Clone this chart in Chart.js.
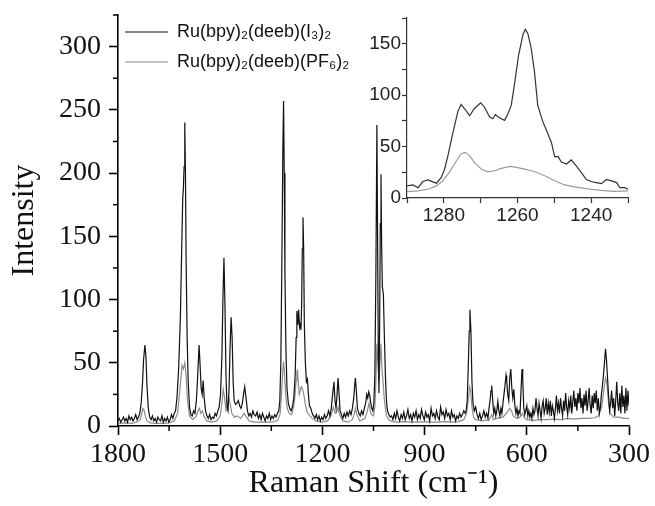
<!DOCTYPE html>
<html><head><meta charset="utf-8">
<script src="https://cdn.jsdelivr.net/npm/chart.js@4.4.1/dist/chart.umd.min.js"></script>
<style>
html,body{margin:0;padding:0;background:#fff;}
#wrap{position:relative;width:655px;height:506px;overflow:hidden;}
#main{position:absolute;left:0;top:0;}
#inset{position:absolute;left:330px;top:0;}
</style></head><body>
<div id="wrap"><canvas id="main" width="655" height="506"></canvas><canvas id="inset" width="310" height="235"></canvas></div>
<script>
// ---------- DATA ----------
const seriesNames = ['Ru(bpy)\u2082(deeb)(I\u2083)\u2082', 'Ru(bpy)\u2082(deeb)(PF\u2086)\u2082'];
const xAxisTitle = 'Raman Shift (cm\u207B\u00B9)';
const yAxisTitle = 'Intensity';
const xTickLabels = [1800, 1500, 1200, 900, 600, 300];
const yTickLabels = [0, 50, 100, 150, 200, 250, 300];
const insetXTickLabels = [1280, 1260, 1240];
const insetYTickLabels = [0, 50, 100, 150];

// [Raman shift, intensity] — Ru(bpy)2(deeb)(I3)2
const i3Spectrum = [
[1800,4],[1796,6],[1792,3],[1788,5],[1784,7],[1780,4],[1776,6],[1772,3],[1768,8],[1764,5],
[1760,7],[1756,4],[1752,6],[1748,9],[1744,5],[1740,7],[1736,10],[1732,18],[1728,34],[1725,52],
[1721,64],[1718,55],[1715,32],[1711,14],[1707,7],[1703,5],[1699,8],[1695,4],[1691,6],[1687,3],
[1683,7],[1679,5],[1675,4],[1671,8],[1667,3],[1663,6],[1659,4],[1655,7],[1651,3],[1647,5],
[1643,9],[1639,6],[1635,10],[1631,12],[1627,22],[1622,45],[1617,85],[1613,140],[1610,180],[1608,188],
[1606,205],[1604,240],[1602,200],[1600,130],[1597,70],[1594,35],[1590,15],[1586,9],[1582,8],[1578,12],
[1574,10],[1570,20],[1566,40],[1562,64],[1559,48],[1556,30],[1553,25],[1550,36],[1547,22],[1543,12],
[1539,8],[1535,6],[1531,9],[1527,5],[1523,7],[1519,6],[1515,10],[1511,8],[1507,12],[1503,15],
[1499,25],[1495,55],[1492,100],[1489,133],[1486,95],[1483,40],[1480,15],[1477,12],[1474,30],[1471,62],
[1468,86],[1465,70],[1462,35],[1459,20],[1455,17],[1451,18],[1447,20],[1443,16],[1439,14],[1435,18],
[1431,26],[1428,31],[1424,22],[1420,12],[1416,8],[1412,10],[1408,7],[1404,12],[1400,9],[1396,8],
[1392,11],[1388,6],[1384,9],[1380,5],[1376,10],[1372,7],[1368,4],[1364,8],[1360,6],[1356,10],
[1352,5],[1348,8],[1344,6],[1340,9],[1336,7],[1332,10],[1328,12],[1325,20],[1322,50],[1319,130],
[1316,220],[1314,257],[1312,200],[1310,120],[1307,60],[1304,30],[1300,18],[1296,14],[1292,12],[1288,15],
[1284,22],[1280,40],[1277,70],[1275,91],[1272,80],[1270,92],[1267,78],[1265,80],[1263,76],[1261,95],
[1259,140],[1257,165],[1255,140],[1253,80],[1250,50],[1247,35],[1244,37],[1241,25],[1238,16],[1234,14],
[1230,10],[1226,8],[1222,6],[1218,9],[1214,5],[1210,8],[1206,4],[1202,7],[1198,5],[1194,9],
[1190,6],[1186,8],[1182,12],[1178,8],[1174,14],[1170,25],[1166,35],[1163,20],[1160,14],[1157,25],
[1154,38],[1151,25],[1148,12],[1144,9],[1140,6],[1136,10],[1132,7],[1128,11],[1124,8],[1120,12],
[1116,9],[1112,14],[1108,22],[1105,33],[1103,38],[1100,26],[1097,14],[1093,10],[1089,8],[1085,12],
[1081,9],[1077,14],[1073,18],[1070,25],[1067,22],[1064,27],[1061,24],[1058,18],[1055,14],[1052,12],
[1049,18],[1046,40],[1043,120],[1040,238],[1038,150],[1036,60],[1034,26],[1032,80],[1030,160],[1028,199],
[1026,140],[1024,110],[1021,104],[1018,70],[1015,40],[1012,20],[1009,12],[1005,9],[1001,7],[997,8],
[993,5],[989,10],[985,6],[981,12],[977,7],[973,4],[969,9],[965,6],[961,11],[957,5],
[953,8],[949,13],[945,6],[941,9],[937,4],[933,10],[929,7],[925,12],[921,5],[917,9],
[913,6],[909,13],[905,8],[901,5],[897,11],[893,7],[889,9],[885,4],[881,14],[877,8],
[873,10],[869,6],[865,12],[861,7],[857,5],[853,15],[849,9],[845,11],[841,6],[837,13],
[833,8],[829,10],[825,5],[821,12],[817,7],[813,9],[809,4],[805,8],[801,6],[797,10],
[793,7],[789,9],[785,12],[781,10],[778,12],[775,20],[772,45],[769,75],[767,92],[764,75],
[761,35],[758,18],[754,12],[750,15],[746,9],[742,6],[738,10],[734,5],[730,8],[726,12],
[722,7],[718,10],[714,6],[711,14],[708,20],[705,28],[703,32],[700,20],[697,10],[694,14],
[691,8],[688,12],[685,19.5],[682,12],[679,8],[676,14],[673,10],[670,18],[667,25],[664,32],
[661,40],[659,36],[656,25],[653,20],[650,38],[647,45],[644,30],[641,22],[638,29],[635,16],
[632,10],[629,14],[626,8],[623,12],[620,10],[617,28],[614,45],[612,38],[609,15],[606,9],
[603,12],[600,16],[597,8],[594,12],[591,7],[588,10],[585,6],[582,14],[579,9],[576,12],
[573,22],[570,14],[567,8],[564,18],[561,12],[558,6],[555,16],[552,20],[549,10],[546,14],
[543,22],[540,9],[537,18],[534,11],[531,20],[528,8],[525,16],[522,12],[519,6],[516,14],
[513,24],[510,12],[507,18],[504,10],[501,22],[498,14],[495,8],[492,20],[489,12],[486,26],
[483,15],[480,9],[477,20],[474,14],[471,24],[468,10],[465,19],[462,28],[459,15],[456,22],
[453,12],[450,26],[447,18],[444,30],[441,14],[438,22],[435,10],[432,25],[429,16],[426,28],
[423,12],[420,20],[417,30],[414,16],[411,10],[408,24],[405,14],[402,26],[399,18],[396,28],
[393,12],[390,22],[387,10],[384,15],[381,25],[378,32],[375,40],[372,50],[369,61],[366,52],
[363,38],[360,24],[357,12],[354,18],[351,28],[348,14],[345,22],[342,8],[339,20],[336,35],
[333,18],[330,12],[327,26],[324,10],[321,32],[318,15],[315,24],[312,10],[309,30],[306,12],
[303,28],[300,16]
];

// [Raman shift, intensity] — Ru(bpy)2(deeb)(PF6)2
const pf6Spectrum = [
[1800,2],[1780,2.5],[1760,2],[1745,3],[1735,5],[1730,10],[1727,14],[1724,13],[1720,8],[1715,4],
[1705,2.5],[1690,2],[1670,2],[1650,2.5],[1635,4],[1625,10],[1618,30],[1612,48],[1608,45],[1604,50],
[1600,40],[1596,20],[1590,8],[1580,5],[1570,8],[1565,12],[1561,14],[1557,10],[1552,12],[1548,8],
[1540,4],[1525,3],[1510,4],[1500,8],[1495,18],[1491,29],[1487,22],[1483,12],[1479,13],[1475,23],
[1471,18],[1466,10],[1458,7],[1450,8],[1440,6],[1430,10],[1425,8],[1415,4],[1400,3],[1380,3],
[1360,3],[1340,3.5],[1330,5],[1324,10],[1320,25],[1316,45],[1314,51],[1311,40],[1307,22],[1303,14],
[1298,10],[1290,9],[1284,16],[1280,25],[1277,36],[1275,43],[1273,44],[1271,35],[1268,25],[1265,28],
[1262,31],[1260,30],[1257,28],[1254,24],[1250,17],[1245,11],[1240,9],[1230,6],[1220,4],[1200,3],
[1185,4],[1175,8],[1168,15],[1163,10],[1158,11],[1154,15],[1150,9],[1140,4],[1125,3],[1112,5],
[1106,10],[1103,14],[1099,9],[1090,4],[1075,6],[1068,12],[1063,18],[1058,10],[1050,8],[1046,15],
[1043,35],[1040,65],[1037,50],[1034,35],[1031,50],[1028,65],[1025,45],[1022,35],[1018,20],[1012,8],
[1005,5],[995,3.5],[980,3],[960,3.5],[940,3],[920,3],[900,3.5],[880,3],[860,3],[840,3.5],
[820,3],[800,3.5],[785,5],[777,10],[772,20],[768,31],[765,28],[761,15],[756,7],[750,5],
[730,4],[710,5],[703,9],[698,5],[690,6],[670,7],[660,10],[650,14],[645,12],[640,8],
[630,6],[620,7],[613,10],[608,7],[600,5],[580,4.5],[560,5],[540,5],[520,5.5],[500,5],
[480,6],[460,5.5],[440,6],[420,6],[400,6.5],[390,8],[380,15],[374,28],[369,38],[365,34],
[360,18],[355,10],[345,7],[330,7],[315,6],[300,6]
];

// Inset (1290–1230 cm-1)
const i3Inset = [
[1290,11.8],[1288.4,12.7],[1287,10],[1285.7,16],[1284.3,17.6],[1283,15.7],[1282,14.4],[1280.7,20],
[1279.8,28],[1278.9,41],[1277.5,64],[1276.2,84],[1275.3,91],[1274.4,87],[1273,80],[1271.7,87],
[1270,92.5],[1269,88.5],[1267.6,79],[1266.7,77],[1266,81],[1264.9,78],[1263.5,75.5],[1262.6,82],
[1261.7,90],[1260.8,111],[1259.7,139],[1258.5,159],[1257.9,164],[1257.2,160],[1256.3,146],[1255.4,123],
[1254.5,90],[1253.1,74],[1251.7,62],[1250.8,54],[1249.9,40],[1249,40.5],[1248.1,35],[1246.7,33],
[1245.4,37],[1244,31],[1242.7,25],[1241.3,18],[1240,16],[1238.6,15],[1237.2,14],[1235.9,18],
[1234.5,16.7],[1233.1,15],[1232.2,10],[1230.9,10],[1230,8.5]
];
const pf6Inset = [
[1290,6.2],[1287,6.9],[1284.3,8.5],[1282,11.8],[1280.3,16.7],[1278.5,25],[1276.6,36],[1275.3,43],
[1274.2,44.4],[1273,41],[1271.7,34.6],[1269.8,28],[1268,25.5],[1266.2,26.5],[1264.4,28.8],[1262.1,30.7],
[1260.3,29.7],[1258.1,28],[1255.4,25.8],[1252.6,21.6],[1249.9,16.7],[1247.2,12.7],[1244.5,10.8],[1240.9,8.8],
[1237.3,7.5],[1233.6,6.5],[1230,6.9]
];

// ---------- RENDER ----------
const toXY = arr => arr.map(p => ({x: p[0], y: p[1]}));
const serif = "'Liberation Serif', 'Times New Roman', serif";
const sans = "'Liberation Sans', Arial, sans-serif";

const minorTicks = {
  id: 'minorTicks',
  afterDraw(chart, args, o) {
    const ctx = chart.ctx, xs = chart.scales.x, ys = chart.scales.y;
    ctx.save();
    ctx.strokeStyle = o.color; ctx.lineWidth = o.width;
    xs.ticks.forEach(t => {
      if (!o.xMajor.includes(t.value)) {
        const p = xs.getPixelForValue(t.value);
        ctx.beginPath(); ctx.moveTo(p, xs.top); ctx.lineTo(p, xs.top + o.len); ctx.stroke();
      }
    });
    ys.ticks.forEach(t => {
      if (!o.yMajor.includes(t.value)) {
        const p = ys.getPixelForValue(t.value);
        ctx.beginPath(); ctx.moveTo(ys.right, p); ctx.lineTo(ys.right - o.len, p); ctx.stroke();
      }
    });
    ctx.restore();
  }
};
const legendShift = {
  id: 'legendShift',
  afterLayout(chart) {
    if (chart.legend) {
      chart.legend.left = chart.chartArea.left - 5;
      chart.legend.top = chart.chartArea.top - 4;
    }
  }
};

new Chart(document.getElementById('main'), {
  type: 'line',
  data: {
    datasets: [
      {label: seriesNames[0], data: toXY(i3Spectrum), borderColor: '#111', borderWidth: 1.2,
       pointRadius: 0, pointStyle: 'line', tension: 0, fill: false},
      {label: seriesNames[1], data: toXY(pf6Spectrum), borderColor: '#8c8c8c', borderWidth: 1.2,
       pointRadius: 0, pointStyle: 'line', tension: 0, fill: false}
    ]
  },
  options: {
    responsive: false, animation: false, devicePixelRatio: 1, events: [],
    layout: {padding: {left: 0, right: 26, top: 15, bottom: 0}},
    plugins: {
      tooltip: {enabled: false},
      legend: {
        position: 'chartArea', align: 'start',
        labels: {usePointStyle: true, pointStyle: 'line', pointStyleWidth: 43, boxWidth: 43, boxHeight: 18,
                 padding: 12, color: '#111', font: {family: sans, size: 18}}
      },
      minorTicks: {color: '#000', width: 1.5, len: 5, xMajor: xTickLabels, yMajor: yTickLabels}
    },
    scales: {
      x: {
        type: 'linear', reverse: true, min: 300, max: 1800,
        afterFit(s) { s.height = 80; s.paddingLeft = 0; s.paddingRight = 0; },
        border: {display: true, color: '#000', width: 1.6},
        grid: {drawOnChartArea: false, drawTicks: true, tickLength: 9, tickWidth: 1.6,
               tickColor: c => xTickLabels.includes(c.tick.value) ? '#000' : 'rgba(0,0,0,0)'},
        ticks: {stepSize: 150, autoSkip: false, maxRotation: 0, padding: 3, color: '#111',
                font: {family: serif, size: 28},
                callback: v => xTickLabels.includes(v) ? String(v) : ''},
        title: {display: true, text: xAxisTitle, color: '#111', font: {family: serif, size: 32},
                padding: {top: 0, bottom: 3}}
      },
      y: {
        type: 'linear', min: 0, max: 325,
        afterFit(s) { s.width = 118; s.paddingTop = 0; s.paddingBottom = 0; },
        border: {display: true, color: '#000', width: 1.6},
        grid: {drawOnChartArea: false, drawTicks: true, tickLength: 9, tickWidth: 1.6,
               tickColor: c => yTickLabels.includes(c.tick.value) ? '#000' : 'rgba(0,0,0,0)'},
        ticks: {stepSize: 25, autoSkip: false, padding: 8, color: '#111',
                font: {family: serif, size: 28},
                callback: v => yTickLabels.includes(v) ? String(v) : ''},
        title: {display: true, text: yAxisTitle, color: '#111', font: {family: serif, size: 32},
                padding: {top: 5, bottom: 0}}
      }
    }
  },
  plugins: [minorTicks, legendShift]
});

new Chart(document.getElementById('inset'), {
  type: 'line',
  data: {
    datasets: [
      {label: seriesNames[0], data: toXY(i3Inset), borderColor: '#333', borderWidth: 1.2,
       pointRadius: 0, tension: 0, fill: false},
      {label: seriesNames[1], data: toXY(pf6Inset), borderColor: '#9a9a9a', borderWidth: 1.2,
       pointRadius: 0, tension: 0, fill: false}
    ]
  },
  options: {
    responsive: false, animation: false, devicePixelRatio: 1, events: [],
    layout: {padding: {left: 0, right: 12, top: 18, bottom: 0}},
    plugins: {legend: {display: false}, tooltip: {enabled: false}},
    scales: {
      x: {
        type: 'linear', reverse: true, min: 1230, max: 1290,
        afterFit(s) { s.height = 37; s.paddingLeft = 0; s.paddingRight = 0; },
        border: {display: true, color: '#333', width: 1.2},
        grid: {drawOnChartArea: false, drawTicks: true, tickLength: 5, tickWidth: 1.2, tickColor: '#333'},
        ticks: {stepSize: 10, autoSkip: false, maxRotation: 0, padding: 1, color: '#222',
                font: {family: sans, size: 19},
                callback: v => insetXTickLabels.includes(v) ? String(v) : ''}
      },
      y: {
        type: 'linear', min: 0, max: 175,
        afterFit(s) { s.width = 77; s.paddingTop = 0; s.paddingBottom = 0; },
        border: {display: true, color: '#333', width: 1.2},
        grid: {drawOnChartArea: false, drawTicks: true, tickLength: 5, tickWidth: 1.2, tickColor: '#333'},
        ticks: {stepSize: 25, autoSkip: false, padding: 1, color: '#222',
                font: {family: sans, size: 19},
                callback: v => insetYTickLabels.includes(v) ? String(v) : ''}
      }
    }
  }
});
</script>
</body></html>
